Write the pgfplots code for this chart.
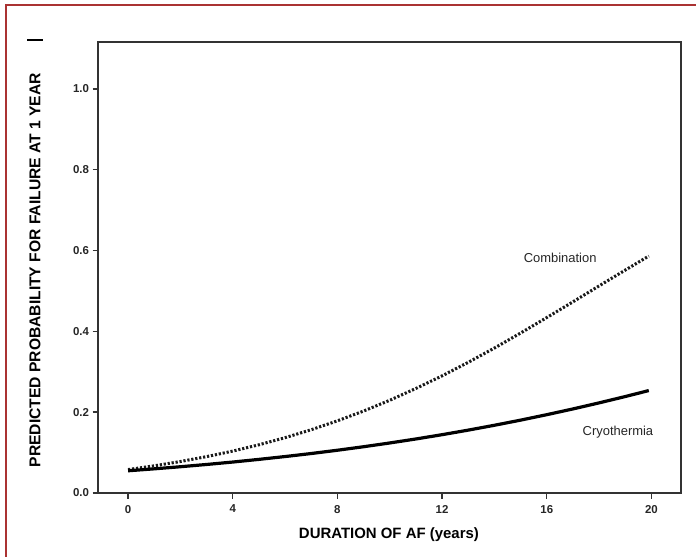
\documentclass[border=0pt]{standalone}
\usepackage{pgfplots}
\pgfplotsset{compat=1.18}
\usepackage{fontspec}
\setmainfont{Liberation Sans}
\begin{document}
\begin{tikzpicture}
\path[use as bounding box, fill=white] (0,0) rectangle (696bp,557bp);
\draw[color={rgb,255:red,170;green,50;blue,50}, line width=1.5bp] (6bp,0) -- (6bp,552bp) -- (696bp,552bp);
\draw[line width=1.5bp] (27bp,517bp) -- (43bp,517bp);
\begin{axis}[
  at={(98bp,64bp)}, anchor=south west,
  scale only axis, width=583bp, height=451bp,
  xmin=-1.15, xmax=21.13, ymin=0, ymax=1.116,
  xtick={0,4,8,12,16,20},
  ytick={0,0.2,0.4,0.6,0.8,1.0},
  yticklabel style={/pgf/number format/.cd, fixed, fixed zerofill, precision=1},
  xticklabel style={yshift=-3bp},
  /pgf/number format/assume math mode=true,
  xtick pos=bottom, ytick pos=left,
  tick align=outside, major tick length=5.5bp,
  axis line style={line width=1.7bp, color=black!80},
  every tick/.style={line width=1.4bp, color=black!80},
  tick label style={font=\fontsize{11.5}{12}\selectfont\bfseries, color=black!85},
  xlabel={DURATION OF AF (years)},
  ylabel={PREDICTED PROBABILITY FOR FAILURE AT 1 YEAR},
  xlabel style={font=\fontsize{15}{16}\selectfont\bfseries, at={(axis description cs:0.499,-0.093)}, anchor=center},
  ylabel style={font=\fontsize{15.7}{16}\selectfont\bfseries, at={(axis description cs:-0.108,0.494)}, anchor=center},
  clip=false,
]
\addplot[black!90, line width=3bp, dash pattern=on 2.2bp off 1.8bp] coordinates {
(0,0.0580) (1,0.0673) (2,0.0779) (3,0.0900) (4,0.1037) (5,0.1193) (6,0.1369) (7,0.1566)
(8,0.1786) (9,0.2028) (10,0.2295) (11,0.2587) (12,0.2899) (13,0.3234) (14,0.3587)
(15,0.3958) (16,0.4341) (17,0.4730) (18,0.5125) (19,0.5516) (19.9,0.5864)
};
\addplot[black, line width=3.2bp] coordinates {
(0,0.0550) (1,0.0598) (2,0.0650) (3,0.0706) (4,0.0766) (5,0.0832) (6,0.0902) (7,0.0977)
(8,0.1058) (9,0.1145) (10,0.1238) (11,0.1337) (12,0.1443) (13,0.1556) (14,0.1676)
(15,0.1803) (16,0.1938) (17,0.2080) (18,0.2230) (19,0.2387) (19.9,0.2535)
};
\node[font=\fontsize{13}{14}\selectfont, color=black!85] at (axis cs:16.51,0.582) {Combination};
\node[font=\fontsize{13}{14}\selectfont, color=black!85] at (axis cs:18.72,0.151) {Cryothermia};
\end{axis}
\end{tikzpicture}
\end{document}
